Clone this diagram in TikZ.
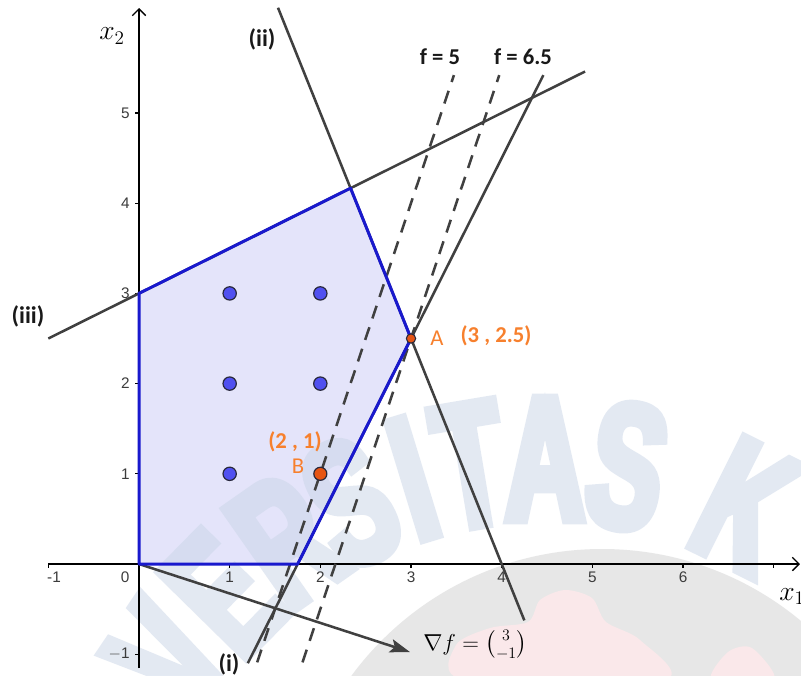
\documentclass[tikz,border=0pt]{standalone}
\usepackage{fontspec}
\usepackage{amsmath}
\newfontfamily\tickfont{Liberation Sans}
\newfontfamily\lblfont{Carlito}
\newfontfamily\wmfont[FakeStretch=0.62,FakeBold=5]{Liberation Sans Bold}
\usetikzlibrary{arrows.meta}
\definecolor{regfill}{RGB}{228,228,250}
\definecolor{regedge}{RGB}{25,25,205}
\definecolor{lgray}{RGB}{64,64,64}
\definecolor{ptblue}{RGB}{80,80,240}
\definecolor{ptorange}{RGB}{230,85,20}
\definecolor{ptline}{RGB}{40,40,60}
\definecolor{lblorange}{RGB}{247,128,45}
\definecolor{wmblue}{RGB}{201,213,231}
\definecolor{wmgray}{RGB}{231,231,231}
\definecolor{wmpink}{RGB}{250,232,234}
\definecolor{ticktext}{RGB}{60,60,60}
\definecolor{lblblack}{RGB}{25,25,25}
\begin{document}
\begin{tikzpicture}[x=68pt,y=67.65pt,
  constraint/.style={draw=lgray,line width=1.9pt},
  levelline/.style={draw=lgray,line width=1.9pt,dash pattern=on 10pt off 7pt},
  axisline/.style={draw=black,line width=1pt,-{Straight Barb[length=5pt,width=10pt]}},
  tickmark/.style={draw=black,line width=0.8pt},
  ticklbl/.style={font=\tickfont\fontsize{11.5}{13}\selectfont,text=ticktext,inner sep=0pt},
  edge/.style={draw=regedge,line width=2.25pt,line join=round},
  gradarrow/.style={draw=lgray,line width=1.9pt,-{Stealth[length=15pt,width=10pt,inset=3pt]}},
  intpt/.style={circle,fill=ptblue,draw=ptline,line width=0.9pt,minimum size=10pt,inner sep=0pt},
  optpt/.style={circle,fill=ptorange,draw=ptline,line width=0.9pt,minimum size=9.8pt,inner sep=0pt},
  apt/.style={circle,fill=ptorange,draw=ptline,line width=0.8pt,minimum size=7pt,inner sep=0pt},
  lbl/.style={font=\lblfont\bfseries\fontsize{18}{20}\selectfont,text=lblblack,inner sep=0pt},
  flbl/.style={font=\lblfont\bfseries\fontsize{17}{20}\selectfont,text=lblblack,inner sep=0pt},
  olbl/.style={font=\lblfont\bfseries\fontsize{17}{20}\selectfont,text=lblorange,inner sep=0pt},
  oname/.style={font=\lblfont\fontsize{17}{20}\selectfont,text=lblorange,inner sep=0pt},
  wmletter/.style={font=\wmfont\fontsize{133}{133}\selectfont,text=wmblue,anchor=base,inner sep=0pt}
]
\useasboundingbox (-1.5331,-1.2306) rectangle (7.3012,6.2528);
\fill[white] (-1.5331,-1.2306) rectangle (7.3012,6.2528);

% watermark background (pixel coordinates)
\begin{scope}[shift={(-1.5331,6.2528)},x=0.75pt,y=-0.75pt]
  \clip (0,0) rectangle (801,675);
  \fill[wmgray] (602,860) circle (311);
  \fill[wmpink] plot[smooth cycle] coordinates {(465,680) (456,645) (490,628) (528,622) (540,600) (565,590) (592,598) (606,622) (640,640) (664,680)};
  \fill[wmpink] plot[smooth cycle] coordinates {(712,680) (728,652) (752,648) (774,680)};
\end{scope}

% feasible region
\coordinate (O) at (0,0);
\coordinate (P1) at (1.75,0);
\coordinate (A) at (3,2.5);
\coordinate (P3) at (2.3333,4.1667);
\coordinate (P4) at (0,3);
\fill[regfill] (O) -- (P1) -- (A) -- (P3) -- (P4) -- cycle;

% watermark letters
\begin{scope}[shift={(-1.5331,6.2528)},x=0.75pt,y=-0.75pt]
  \clip (0,0) rectangle (801,675);
  \begin{scope}[transparency group,opacity=0.5]
  \foreach \ch/\th [count=\i] in {V/-56,E/-45.5,R/-35,S/-25.5,I/-17,T/-9.5,A/0,S/10.5,K/26.5}
    \node[wmletter,rotate=-\th,name=wm\i] at ({545+390*sin(\th)},{910-390*cos(\th)}) {\ch};
  \end{scope}
\end{scope}

% axes
\coordinate (xS) at (-1.0,0);
\coordinate (xE) at (7.29,0);
\coordinate (yS) at (0,-1.153);
\coordinate (yE) at (0,6.164);
\draw[axisline] (xS) -- (xE);
\draw[axisline] (yS) -- (yE);
\foreach \k in {-1,...,7} \draw[tickmark] (\k,0) -- ++(0,-3pt);
\foreach \k in {-1,1,2,3,4,5} \draw[tickmark] (0,\k) -- ++(-3pt,0);
\node[ticklbl] (tx-1) at (-0.937,-0.144) {-1};
\node[ticklbl] (tx0) at (-0.154,-0.144) {0};
\foreach \k in {1,...,6} \node[ticklbl] (tx\k) at (\k,-0.144) {\k};
\node[ticklbl,anchor=east] (ty-1) at (-0.1,-1) {$-$1};
\foreach \k in {1,...,5} \node[ticklbl,anchor=east] (ty\k) at (-0.1,\k) {\k};

% constraint lines
\coordinate (iiiS) at (-1,2.5);
\coordinate (iiiE) at (4.92,5.46);
\coordinate (iiS) at (1.533,6.167);
\coordinate (iiE) at (4.25,-0.625);
\coordinate (iS) at (1.2,-1.1);
\coordinate (iE) at (4.46,5.42);
\draw[constraint] (iiiS) -- (iiiE);
\draw[constraint] (iiS) -- (iiE);
\draw[constraint] (iS) -- (iE);

% level lines
\coordinate (f5S) at (1.303,-1.09);
\coordinate (f5E) at (3.473,5.42);
\coordinate (f6S) at (1.803,-1.09);
\coordinate (f6E) at (3.973,5.42);
\draw[levelline] (f5S) -- (f5E);
\draw[levelline] (f6S) -- (f6E);

% gradient
\coordinate (G) at (2.989,-0.976);
\draw[gradarrow] (O) -- (G);

% region border
\draw[edge] (O) -- (P1) -- (A) -- (P3) -- (P4) -- cycle;

% integer points
\node[intpt] (p11) at (1,1) {};
\node[intpt] (p12) at (1,2) {};
\node[intpt] (p13) at (1,3) {};
\node[intpt] (p22) at (2,2) {};
\node[intpt] (p23) at (2,3) {};
\node[optpt] (pB) at (2,1) {};
\node[apt] (pA) at (A) {};

% labels (pixel coordinates)
\begin{scope}[shift={(-1.5331,6.2528)},x=0.75pt,y=-0.75pt]
  \node[lbl] (liii) at (28,316) {(iii)};
  \node[lbl] (lii) at (262,39) {(ii)};
  \node[lbl] (li) at (229,664) {(i)};
  \node[flbl] (lf5) at (440,57) {f = 5};
  \node[flbl] (lf65) at (523,57) {f = 6.5};
  \node[oname] (lA) at (437,338) {A};
  \node[olbl] (lAc) at (496,336) {(3 , 2.5)};
  \node[olbl] (lBc) at (295,442) {(2 , 1)};
  \node[oname] (lB) at (298,466) {B};
  \node[anchor=base west,inner sep=0pt,font=\fontsize{20}{24}\selectfont] (lx2) at (99,40) {$x_2$};
  \node[anchor=base west,inner sep=0pt,font=\fontsize{20}{24}\selectfont] (lx1) at (779,600) {$x_1$};
  \node[anchor=west,inner sep=0pt,font=\fontsize{17.5}{21}\selectfont] (lgrad) at (423,645) {$\nabla f = \binom{3}{-1}$};
\end{scope}
\end{tikzpicture}
\end{document}
